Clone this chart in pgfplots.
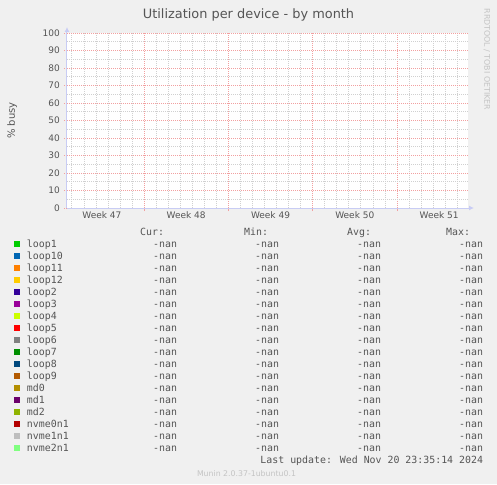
\documentclass[border=0pt]{standalone}
\usepackage{pgfplots}
\pgfplotsset{compat=1.18}
\usetikzlibrary{arrows.meta}
\usepackage{fontspec}
\setmainfont{DejaVu Sans}
\newfontfamily\monofont{DejaVu Sans Mono}

\definecolor{bgc}{HTML}{F0F0F0}
\definecolor{txt}{HTML}{555555}
\definecolor{faint}{HTML}{C4C4C4}
\definecolor{axc}{HTML}{C8CCF4}
\definecolor{mgrid}{HTML}{F2A0A0}
\definecolor{ngrid}{HTML}{D0D0D0}
% munin palette
\definecolor{cA}{HTML}{00CC00}
\definecolor{cB}{HTML}{0066B3}
\definecolor{cC}{HTML}{FF8000}
\definecolor{cD}{HTML}{FFCC00}
\definecolor{cE}{HTML}{330099}
\definecolor{cF}{HTML}{990099}
\definecolor{cG}{HTML}{CCFF00}
\definecolor{cH}{HTML}{FF0000}
\definecolor{cI}{HTML}{808080}
\definecolor{cJ}{HTML}{008F00}
\definecolor{cK}{HTML}{00487D}
\definecolor{cL}{HTML}{B35A00}
\definecolor{cM}{HTML}{B38F00}
\definecolor{cN}{HTML}{6B006B}
\definecolor{cO}{HTML}{8FB300}
\definecolor{cP}{HTML}{B30000}
\definecolor{cQ}{HTML}{BEBEBE}
\definecolor{cR}{HTML}{80FF80}

% one legend row: name, then Cur / Min / Avg / Max (all -nan)
\newcommand{\nanrow}[1]{\makebox[0pt][l]{#1}\makebox[150pt][r]{-nan}\makebox[102pt][r]{-nan}\makebox[102pt][r]{-nan}\makebox[102pt][r]{-nan}}

\pgfplotsset{
    sq/.style={legend image code/.code={
        \fill[#1, draw=none] (0pt,0pt) rectangle (6pt,5.6pt);
        \path[draw=none, fill=none] (0pt,0pt) rectangle (13pt,1pt);}},
    every axis grid/.style={},
}

\begin{document}
\begin{tikzpicture}
    \fill[bgc] (-67pt,-276pt) rectangle (430pt,208pt);
    \begin{axis}[
            at={(0pt,0pt)}, anchor=south west,
            scale only axis,
            clip=false,
            width=401pt, height=175pt,
            axis background/.style={fill=white},
            xmin=0, xmax=33.3, ymin=0, ymax=100,
            enlargelimits=false,
            axis lines=left,
            axis line style={draw=axc, line width=1pt,
                    -{Latex[length=5pt,width=5pt]}, shorten >=-6pt},
            % week boundaries: red grid + tick, no label
            xtick={6.4,13.4,20.4,27.4},
            xticklabels={,,,},
            minor xtick={0.4,1.4,2.4,3.4,4.4,5.4,7.4,8.4,9.4,10.4,11.4,12.4,
                    14.4,15.4,16.4,17.4,18.4,19.4,21.4,22.4,23.4,24.4,25.4,26.4,
                    28.4,29.4,30.4,31.4,32.4},
            extra x ticks={2.9,9.9,16.9,23.9,30.9},
            extra x tick labels={Week 47,Week 48,Week 49,Week 50,Week 51},
            extra x tick style={grid=none, major tick length=0pt},
            ytick={0,10,...,100},
            minor ytick={5,15,...,95},
            grid=both,
            major grid style={color=mgrid, line width=0.8pt, dash pattern=on 1pt off 1pt},
            minor grid style={color=ngrid, line width=0.7pt, dash pattern=on 1pt off 1pt},
            tick align=outside,
            major tick length=3pt,
            minor tick length=0pt,
            xtick style={color=mgrid, line width=0.8pt},
            ytick style={color=mgrid, line width=0.8pt, dash pattern=on 1pt off 1pt},
            /pgf/number format/assume math mode=true,
            ticklabel style={font=\fontsize{9}{10}\selectfont, text=txt},
            yticklabel style={anchor=east, inner xsep=0pt, xshift=-4pt},
            xticklabel style={anchor=north, inner ysep=0pt, yshift=-3pt},
            ylabel={\% busy},
            ylabel style={at={(axis description cs:-0.137,0.5)}, anchor=center,
                    font=\fontsize{10}{12}\selectfont, text=txt},
            legend cell align=left,
            legend style={
                    at={(axis description cs:-0.13217,-0.10857)}, anchor=north west,
                    draw=none, fill=none, inner sep=0pt, outer sep=0pt,
                    column sep=0pt, row sep=0pt,
                    font=\monofont\fontsize{9.9}{12}\selectfont, text=txt,
                    cells={anchor=base west},
                    nodes={inner sep=0pt, text height=8pt, text depth=4pt},
                },
        ]

        \addlegendimage{empty legend}
        \addlegendentry{\makebox[137pt][r]{Cur:}\makebox[104pt][r]{Min:}\makebox[103pt][r]{Avg:}\makebox[99pt][r]{Max:}}
        \addlegendimage{sq=cA} \addlegendentry{\nanrow{loop1}}
        \addlegendimage{sq=cB} \addlegendentry{\nanrow{loop10}}
        \addlegendimage{sq=cC} \addlegendentry{\nanrow{loop11}}
        \addlegendimage{sq=cD} \addlegendentry{\nanrow{loop12}}
        \addlegendimage{sq=cE} \addlegendentry{\nanrow{loop2}}
        \addlegendimage{sq=cF} \addlegendentry{\nanrow{loop3}}
        \addlegendimage{sq=cG} \addlegendentry{\nanrow{loop4}}
        \addlegendimage{sq=cH} \addlegendentry{\nanrow{loop5}}
        \addlegendimage{sq=cI} \addlegendentry{\nanrow{loop6}}
        \addlegendimage{sq=cJ} \addlegendentry{\nanrow{loop7}}
        \addlegendimage{sq=cK} \addlegendentry{\nanrow{loop8}}
        \addlegendimage{sq=cL} \addlegendentry{\nanrow{loop9}}
        \addlegendimage{sq=cM} \addlegendentry{\nanrow{md0}}
        \addlegendimage{sq=cN} \addlegendentry{\nanrow{md1}}
        \addlegendimage{sq=cO} \addlegendentry{\nanrow{md2}}
        \addlegendimage{sq=cP} \addlegendentry{\nanrow{nvme0n1}}
        \addlegendimage{sq=cQ} \addlegendentry{\nanrow{nvme1n1}}
        \addlegendimage{sq=cR} \addlegendentry{\nanrow{nvme2n1}}
        \addlegendimage{empty legend}
        \addlegendentry{\makebox[456pt][r]{Last update: Wed Nov 20 23:35:14 2024}}

        \node[anchor=base, text=txt, font=\fontsize{12.9}{14}\selectfont]
            at (axis description cs:0.4526,1.0857) {Utilization per device - by month};
        \node[anchor=west, rotate=-90, text=faint, font=\fontsize{7.9}{9}\selectfont]
            at (axis description cs:1.0474,1.16) {RRDTOOL / TOBI OETIKER};
        \node[anchor=center, text=faint, font=\fontsize{7.8}{9}\selectfont]
            at (axis description cs:0.4476,-1.52) {Munin 2.0.37-1ubuntu0.1};
    \end{axis}
\end{tikzpicture}
\end{document}
